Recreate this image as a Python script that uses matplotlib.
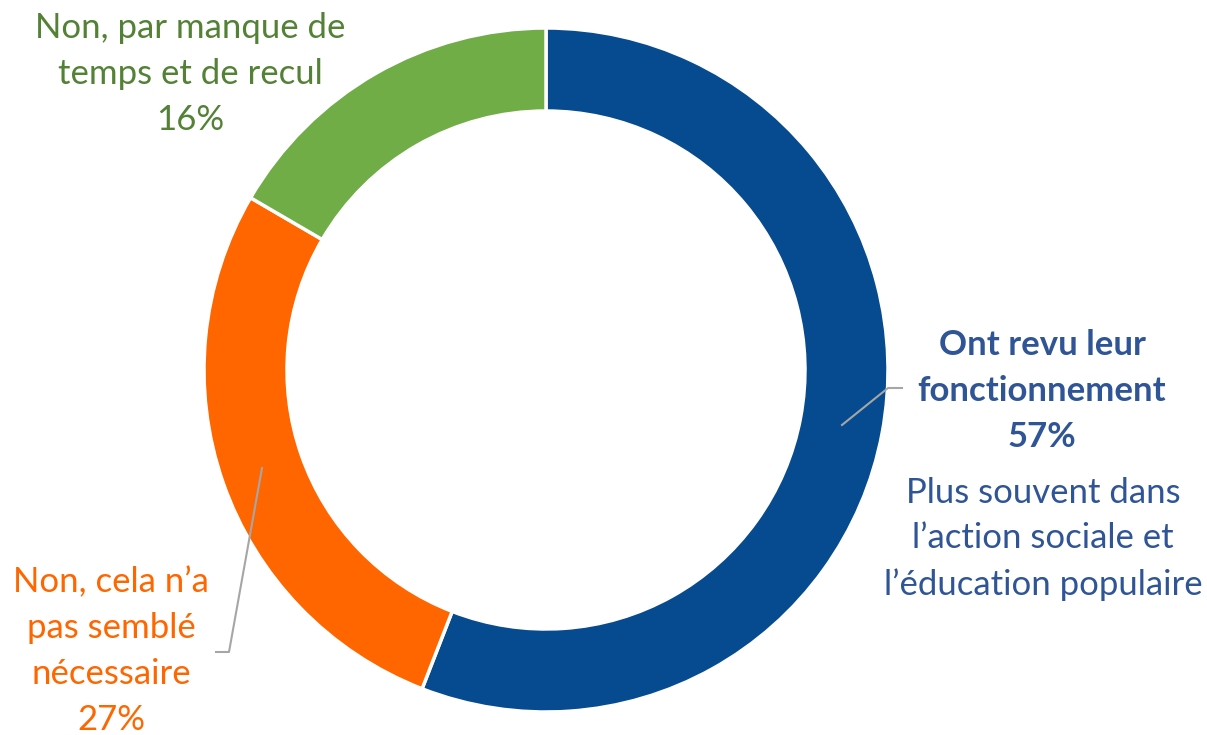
import matplotlib.pyplot as plt

plt.rcParams['font.family'] = ['Lato', 'DejaVu Sans']

# data (wedge shares as drawn, labels as printed)
labels = ["Ont revu leur\nfonctionnement", "Non, cela n\u2019a\npas sembl\u00e9\nn\u00e9cessaire", "Non, par manque de\ntemps et de recul"]
shares = [55.9, 27.5, 16.6]
pct_labels = ["57%", "27%", "16%"]
note = "Plus souvent dans\nl\u2019action sociale et\nl\u2019\u00e9ducation populaire"
colors = ['#064A8F', '#FF6600', '#70AD47']
text_colors = ['#2F5597', '#FF6600', '#538135']

W, H = 1207, 735
fig = plt.figure(figsize=(W / 100, H / 100), dpi=100)
ax = fig.add_axes([0, 0, 1, 1])

cx, cy, R = 546, H - 370, 342
ax.pie(shares, colors=colors, startangle=90, counterclock=False,
       center=(cx, cy), radius=R,
       wedgeprops=dict(width=83, edgecolor='white', linewidth=2.5))
ax.set_xlim(0, W)
ax.set_ylim(0, H)
ax.set_aspect('equal')
ax.axis('off')

fs = 25
ls = 1.53
# labels
ax.text(1042, H - 391, labels[0] + "\n" + pct_labels[0], ha='center', va='center',
        fontsize=fs, fontweight='bold', color=text_colors[0], linespacing=ls)
ax.text(1043, H - 539, note, ha='center', va='center',
        fontsize=fs, color=text_colors[0], linespacing=ls)
ax.text(111, H - 651, labels[1] + "\n" + pct_labels[1], ha='center', va='center',
        fontsize=fs, color=text_colors[1], linespacing=ls)
ax.text(190, H - 74, labels[2] + "\n" + pct_labels[2], ha='center', va='center',
        fontsize=fs, color=text_colors[2], linespacing=ls)

# leader lines
ax.plot([842, 888, 902], [H - 425, H - 388, H - 388], color='#A6A6A6', lw=1.5)
ax.plot([262, 229, 216], [H - 468, H - 652, H - 652], color='#A6A6A6', lw=1.5)

fig.savefig('out.png', dpi=100)
